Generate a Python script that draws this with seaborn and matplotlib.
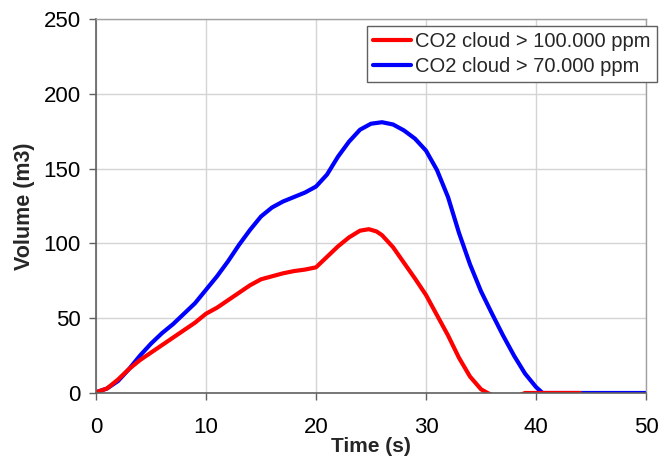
import numpy as np
import pandas as pd
import matplotlib
matplotlib.use("Agg")
import matplotlib.pyplot as plt
import seaborn as sns

# Cloud volume above concentration thresholds over time
red_label = "CO2 cloud > 100.000 ppm"
blue_label = "CO2 cloud > 70.000 ppm"

red_time = [0, 1, 2, 3, 4, 5, 6, 7, 8, 9, 10, 11, 12, 13, 14, 15, 16, 17, 18, 19,
            20, 21, 22, 23, 24, 24.8, 25.5, 26, 27, 28, 29, 30, 31, 32, 33, 34, 35,
            35.6, 36.5, 38, 39, 44]
red_volume = [0.5, 3, 9, 16, 22, 27, 32, 37, 42, 47, 53, 57, 62, 67, 72, 76, 78, 80,
              81.5, 82.5, 84, 91, 98, 104, 108.5, 109.5, 108, 105.5, 97.5, 87, 76.5, 65.5,
              52, 38.5, 23.5, 11, 2.5, 0, -3, -3, 0, 0]

blue_time = [0, 1, 2, 3, 4, 5, 6, 7, 8, 9, 10, 11, 12, 13, 14, 15, 16, 17, 18, 19,
             20, 21, 22, 23, 24, 25, 26, 27, 28, 29, 30, 31, 32, 33, 34, 35, 36, 37,
             38, 39, 40, 40.6, 50]
blue_volume = [0.5, 3, 8, 16, 25, 33, 40, 46, 53, 60, 69, 78, 88, 99, 109, 118, 124,
               128, 131, 134, 138, 146, 158, 168, 176, 180, 181, 179.5, 175.5, 170, 162,
               149, 131, 107, 86, 68, 53, 38.5, 25, 13, 4, 0, 0]

x_ticks = [0, 10, 20, 30, 40, 50]
y_ticks = [0, 50, 100, 150, 200, 250]

df = pd.concat([
    pd.DataFrame({"time": blue_time, "volume": blue_volume, "series": blue_label}),
    pd.DataFrame({"time": red_time, "volume": red_volume, "series": red_label}),
], ignore_index=True)

sns.set_theme(style="white")
plt.rcParams["font.family"] = ["Liberation Sans", "DejaVu Sans"]

fig = plt.figure(figsize=(6.72, 4.61), dpi=100)
ax = fig.add_axes([96 / 672, 68 / 461, 550 / 672, 374 / 461])

sns.lineplot(data=df, x="time", y="volume", hue="series",
             hue_order=[blue_label, red_label],
             palette={red_label: "#ff0000", blue_label: "#0000ff"},
             linewidth=3, ax=ax, sort=False, estimator=None, legend=False)

ax.set_xlim(0, 50)
ax.set_ylim(0, 250)
ax.set_xticks(x_ticks)
ax.set_yticks(y_ticks)
ax.grid(True, color="#d4d4d4", linewidth=1)
ax.set_axisbelow(True)

for side in ("left", "bottom"):
    ax.spines[side].set_color("#606060")
    ax.spines[side].set_linewidth(1.2)
for side in ("top", "right"):
    ax.spines[side].set_color("#a0a0a0")
    ax.spines[side].set_linewidth(1.0)

ax.tick_params(axis="both", which="major", labelsize=16, colors="#606060",
               labelcolor="black", length=5, width=1, direction="out")
ax.tick_params(axis="x", pad=12, bottom=True)
ax.tick_params(axis="y", pad=6, left=True)

ax.set_xlabel("Time (s)", fontsize=15, fontweight="bold")
ax.set_ylabel("Volume (m3)", fontsize=15.5, fontweight="bold")
ax.xaxis.set_label_coords(0.5, -0.118)
ax.yaxis.set_label_coords(-0.111, 0.5)

# Legend lists the 100.000 ppm series first
handles = [plt.Line2D([], [], color="#ff0000", linewidth=3),
           plt.Line2D([], [], color="#0000ff", linewidth=3)]
leg = fig.legend(handles, [red_label, blue_label], loc="upper right",
                 bbox_to_anchor=(657 / 672, 1 - 26 / 461), bbox_transform=fig.transFigure,
                 borderaxespad=0, fontsize=14.5, frameon=True, fancybox=False,
                 framealpha=1, edgecolor="#606060", handlelength=1.9,
                 handletextpad=0.2, labelspacing=0.3, borderpad=0.3)
leg.get_frame().set_linewidth(1.0)

fig.savefig("out.png", dpi=100, facecolor="white")
